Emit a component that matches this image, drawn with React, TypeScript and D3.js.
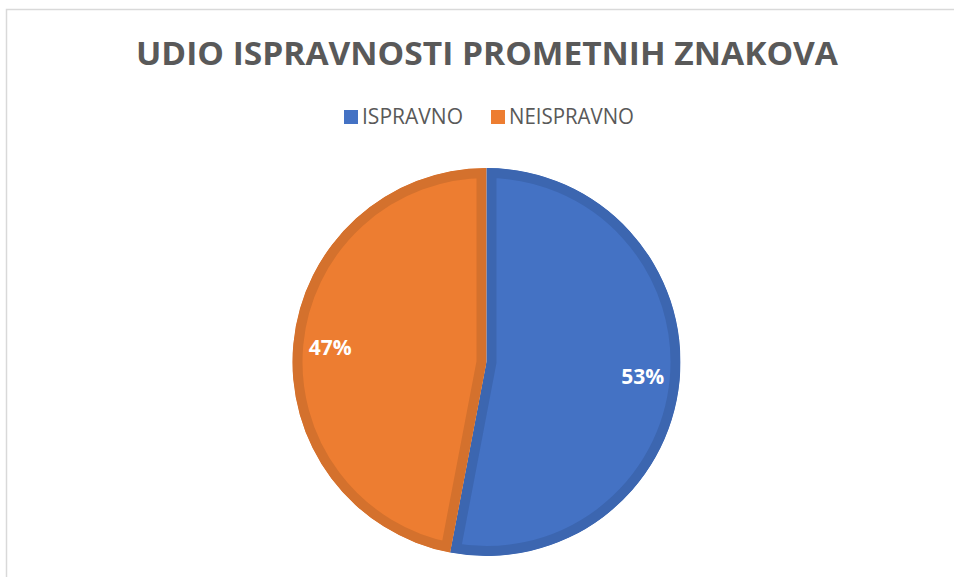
import { useEffect, useRef } from "react";
import * as d3 from "d3";

const categories = ["ISPRAVNO", "NEISPRAVNO"];
const values = [53, 47];
const labels = ["53%", "47%"];
const fills = ["#4472C4", "#ED7D31"];
const borders = ["#3C66B0", "#D4712D"];

const W = 954;
const H = 577;

const App = () => {
  const svgRef = useRef<SVGSVGElement>(null);

  useEffect(() => {
    const svg = d3.select(svgRef.current);
    svg.selectAll("*").remove();

    // chart frame (only top and left edges show in the crop)
    svg.append("path")
      .attr("d", `M6.5,${H} V9.5 H${W}`)
      .attr("fill", "none")
      .attr("stroke", "#d9d9d9")
      .attr("stroke-width", 1.5);

    // title
    svg.append("text")
      .attr("x", 487)
      .attr("y", 65)
      .attr("text-anchor", "middle")
      .attr("textLength", 702)
      .attr("lengthAdjust", "spacingAndGlyphs")
      .style("font-family", "'Open Sans', sans-serif")
      .style("font-weight", 700)
      .style("font-size", "32px")
      .style("fill", "#595959")
      .text("UDIO ISPRAVNOSTI PROMETNIH ZNAKOVA");

    // legend
    const legendX = [344, 491];
    const legendW = [101, 125];
    const legend = svg.append("g");
    categories.forEach((c, i) => {
      legend.append("rect")
        .attr("x", legendX[i])
        .attr("y", 110)
        .attr("width", 14)
        .attr("height", 14)
        .attr("fill", fills[i]);
      legend.append("text")
        .attr("x", legendX[i] + 18)
        .attr("y", 124)
        .attr("textLength", legendW[i])
        .attr("lengthAdjust", "spacingAndGlyphs")
        .style("font-family", "'Open Sans', sans-serif")
        .style("font-size", "21px")
        .style("fill", "#595959")
        .text(c);
    });

    // pie
    const cx = 486.5, cy = 362, r = 194;
    const pie = d3.pie<number>().sort(null).value((d) => d);
    const arcs = pie(values);
    const arc = d3.arc<d3.PieArcDatum<number>>().innerRadius(0).outerRadius(r);
    const labelArc = d3.arc<d3.PieArcDatum<number>>().innerRadius(157).outerRadius(157);

    const defs = svg.append("defs");
    const g = svg.append("g").attr("transform", `translate(${cx},${cy})`);

    arcs.forEach((a, i) => {
      defs.append("clipPath")
        .attr("id", `slice-clip-${i}`)
        .append("path")
        .attr("d", arc(a) as string);
      g.append("path")
        .attr("d", arc(a) as string)
        .attr("fill", fills[i])
        .attr("stroke", borders[i])
        .attr("stroke-width", 20)
        .attr("stroke-linejoin", "round")
        .attr("clip-path", `url(#slice-clip-${i})`);
    });

    g.selectAll(".lbl")
      .data(arcs)
      .enter()
      .append("text")
      .attr("class", "lbl")
      .attr("transform", (d) => `translate(${labelArc.centroid(d)})`)
      .attr("text-anchor", "middle")
      .attr("dy", "0.36em")
      .style("font-family", "'Open Sans', sans-serif")
      .style("font-weight", 700)
      .style("font-size", "21px")
      .style("fill", "#ffffff")
      .text((d, i) => labels[i]);
  }, []);

  return (
    <svg
      ref={svgRef}
      width={W}
      height={H}
      style={{ position: "absolute", left: 0, top: 0, background: "#fff" }}
    />
  );
};

export default App;
